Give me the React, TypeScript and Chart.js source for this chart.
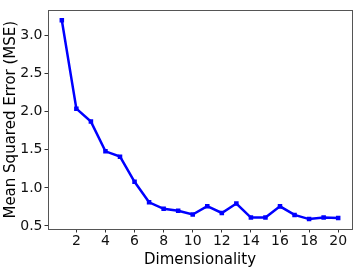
import React, { useEffect, useRef } from "react";
import { Chart, registerables } from "chart.js";

Chart.register(...registerables);

const dims = [1, 2, 3, 4, 5, 6, 7, 8, 9, 10, 11, 12, 13, 14, 15, 16, 17, 18, 19, 20];
const mse = [3.2, 2.04, 1.87, 1.48, 1.41, 1.08, 0.81, 0.725, 0.7, 0.65, 0.76, 0.67, 0.795, 0.61, 0.61, 0.757, 0.645, 0.59, 0.61, 0.605];
const xTicks = [2, 4, 6, 8, 10, 12, 14, 16, 18, 20];
const yTicks = [0.5, 1.0, 1.5, 2.0, 2.5, 3.0];

const boxPlugin = {
  id: "box",
  afterDraw(chart: any) {
    const { ctx, chartArea } = chart;
    ctx.save();
    ctx.strokeStyle = "#555555";
    ctx.lineWidth = 1;
    ctx.strokeRect(
      Math.round(chartArea.left) + 0.5,
      Math.round(chartArea.top) + 0.5,
      Math.round(chartArea.right - chartArea.left),
      Math.round(chartArea.bottom - chartArea.top)
    );
    ctx.restore();
  },
};

export default function App() {
  const ref = useRef<HTMLCanvasElement>(null);
  useEffect(() => {
    document.body.style.margin = "0";
    const font = "'DejaVu Sans', sans-serif";
    const chart = new Chart(ref.current!, {
      type: "line",
      data: {
        datasets: [
          {
            data: dims.map((d, i) => ({ x: d, y: mse[i] })),
            borderColor: "#0000ff",
            backgroundColor: "#0000ff",
            borderWidth: 2.5,
            pointStyle: "rect",
            pointRadius: 3.2,
            pointBorderWidth: 0,
            tension: 0,
          },
        ],
      },
      options: {
        animation: false,
        responsive: false,
        maintainAspectRatio: false,
        layout: { padding: { left: 0, right: 7, top: 7, bottom: 0 } },
        plugins: { legend: { display: false }, tooltip: { enabled: false } },
        scales: {
          x: {
            type: "linear",
            min: 0.05,
            max: 20.95,
            afterBuildTicks: (s: any) => {
              s.ticks = xTicks.map((v) => ({ value: v }));
            },
            afterFit: (s: any) => {
              s.height = 40;
            },
            grid: { display: true, drawOnChartArea: false, drawTicks: true, tickLength: 3.5, color: "#333" },
            border: { display: false },
            ticks: { color: "#111", font: { family: font, size: 14 }, padding: 0, maxRotation: 0 },
            title: { display: true, text: "Dimensionality", color: "#000", font: { family: font, size: 15 }, padding: { top: 4, bottom: 0 } },
          },
          y: {
            type: "linear",
            min: 0.46,
            max: 3.33,
            afterBuildTicks: (s: any) => {
              s.ticks = yTicks.map((v) => ({ value: v }));
            },
            afterFit: (s: any) => {
              s.width = 48;
            },
            grid: { display: true, drawOnChartArea: false, drawTicks: true, tickLength: 3.5, color: "#333" },
            border: { display: false },
            ticks: {
              color: "#111",
              font: { family: font, size: 14 },
              padding: 2,
              callback: (v: any) => Number(v).toFixed(1),
            },
            title: { display: true, text: "Mean Squared Error (MSE)", color: "#000", font: { family: font, size: 15 }, padding: { top: 2.5, bottom: 0 } },
          },
        },
      },
      plugins: [boxPlugin],
    });
    return () => chart.destroy();
  }, []);
  return (
    <div style={{ position: "absolute", left: 0, top: 0, width: 359, height: 269 }}>
      <canvas ref={ref} width={359} height={269} style={{ width: 359, height: 269 }} />
    </div>
  );
}
